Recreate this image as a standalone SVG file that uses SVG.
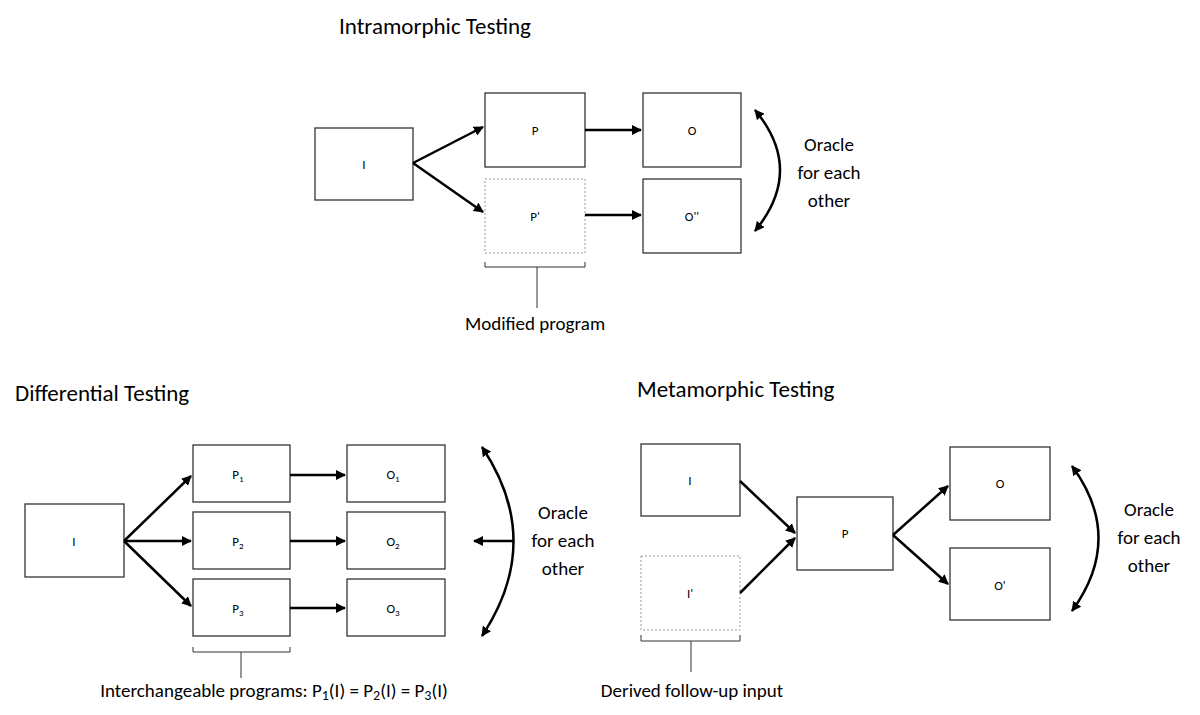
<svg xmlns="http://www.w3.org/2000/svg" width="1200" height="715" viewBox="0 0 1200 715">
<style>
.b{fill:#fff;stroke:#333;stroke-width:1.3}
.d{fill:#fff;stroke:#999;stroke-width:1;stroke-dasharray:2 2}
text{font-family:Calibri,"Carlito","Liberation Sans",sans-serif;fill:#000}
.s{font-size:13px;text-anchor:middle}
.l{font-size:19px;text-anchor:middle}
.t{font-size:23px}
.c{stroke:#000;stroke-width:2.5;fill:none}
.k{stroke:#333;stroke-width:1;fill:none}
</style>
<defs><marker id="a" viewBox="0 0 10 10" refX="9" refY="5" markerWidth="4" markerHeight="4" orient="auto-start-reverse"><path d="M0,0L10,5L0,10z" fill="#000"/></marker></defs>
<text class="t" x="339" y="34">Intramorphic Testing</text>
<text class="t" x="15" y="401">Differential Testing</text>
<text class="t" x="637" y="397">Metamorphic Testing</text>
<g id="intra">
<g id="i1"><rect class="b" x="315" y="128" width="98" height="72"/><text class="s" x="364" y="169">I</text></g>
<g id="p1"><rect class="b" x="485" y="93" width="100" height="74"/><text class="s" x="535" y="135">P</text></g>
<g id="pp1"><rect class="d" x="485" y="179" width="100" height="74"/><text class="s" x="535" y="221">P'</text></g>
<g id="o1"><rect class="b" x="643" y="93" width="98" height="74"/><text class="s" x="692" y="135">O</text></g>
<g id="oo1"><rect class="b" x="643" y="179" width="98" height="74"/><text class="s" x="692" y="221">O''</text></g>
<text class="l" x="829" y="151">Oracle</text><text class="l" x="829" y="179">for each</text><text class="l" x="829" y="207">other</text>
<path class="k" d="M485,262V267H585V262M537,267V308"/>
<text class="l" x="535" y="330">Modified program</text>
</g>
<g id="diff">
<g id="i2"><rect class="b" x="25" y="504" width="99" height="73"/><text class="s" x="74" y="546">I</text></g>
<g id="p21"><rect class="b" x="193" y="445" width="97" height="57"/><text class="s" x="238" y="479">P<tspan font-size="9" dy="3">1</tspan></text></g>
<g id="p22"><rect class="b" x="193" y="512" width="97" height="57"/><text class="s" x="238" y="546">P<tspan font-size="9" dy="3">2</tspan></text></g>
<g id="p23"><rect class="b" x="193" y="579" width="97" height="57"/><text class="s" x="238" y="613">P<tspan font-size="9" dy="3">3</tspan></text></g>
<g id="o21"><rect class="b" x="347" y="445" width="98" height="57"/><text class="s" x="393" y="479">O<tspan font-size="9" dy="3">1</tspan></text></g>
<g id="o22"><rect class="b" x="347" y="512" width="98" height="57"/><text class="s" x="393" y="546">O<tspan font-size="9" dy="3">2</tspan></text></g>
<g id="o23"><rect class="b" x="347" y="579" width="98" height="57"/><text class="s" x="393" y="613">O<tspan font-size="9" dy="3">3</tspan></text></g>
<text class="l" x="563" y="519">Oracle</text><text class="l" x="563" y="547">for each</text><text class="l" x="563" y="575">other</text>
<path class="k" d="M193,647V652H290V647M241,652V678"/>
<text class="l" x="274" y="697">Interchangeable programs: P<tspan font-size="14" dy="3">1</tspan><tspan dy="-3">(I) = P</tspan><tspan font-size="14" dy="3">2</tspan><tspan dy="-3">(I) = P</tspan><tspan font-size="14" dy="3">3</tspan><tspan dy="-3">(I)</tspan></text>
</g>
<g id="meta">
<g id="i3"><rect class="b" x="641" y="444" width="99" height="72"/><text class="s" x="690" y="485">I</text></g>
<g id="ip3"><rect class="d" x="641" y="556" width="99" height="74"/><text class="s" x="690" y="598">I'</text></g>
<g id="p3"><rect class="b" x="797" y="497" width="96" height="73"/><text class="s" x="845" y="538">P</text></g>
<g id="o3"><rect class="b" x="950" y="447" width="100" height="73"/><text class="s" x="1000" y="488">O</text></g>
<g id="oo3"><rect class="b" x="950" y="548" width="100" height="72"/><text class="s" x="1000" y="590">O'</text></g>
<text class="l" x="1149" y="516">Oracle</text><text class="l" x="1149" y="544">for each</text><text class="l" x="1149" y="572">other</text>
<path class="k" d="M641,635V641H740V635M691,641V672"/>
<text class="l" x="692" y="697">Derived follow-up input</text>
</g>
<g id="connectors">
<path class="c" marker-end="url(#a)" d="M413,163L483,127"/>
<path class="c" marker-end="url(#a)" d="M413,163L483,212"/>
<path class="c" marker-end="url(#a)" d="M585,130L641,130"/>
<path class="c" marker-end="url(#a)" d="M585,215L641,215"/>
<path class="c" marker-start="url(#a)" marker-end="url(#a)" d="M755,110Q805,170 755,231"/>
<path class="c" marker-end="url(#a)" d="M124,541L191,476"/>
<path class="c" marker-end="url(#a)" d="M124,541L191,541"/>
<path class="c" marker-end="url(#a)" d="M124,541L191,606"/>
<path class="c" marker-end="url(#a)" d="M290,475L345,475"/>
<path class="c" marker-end="url(#a)" d="M290,541L345,541"/>
<path class="c" marker-end="url(#a)" d="M290,608L345,608"/>
<path class="c" marker-start="url(#a)" marker-end="url(#a)" d="M482,447Q545,541 482,636"/>
<path class="c" marker-end="url(#a)" d="M514,541L474,541"/>
<path class="c" marker-end="url(#a)" d="M740,481L795,533"/>
<path class="c" marker-end="url(#a)" d="M740,593L795,538"/>
<path class="c" marker-end="url(#a)" d="M893,535L948,486"/>
<path class="c" marker-end="url(#a)" d="M893,535L948,584"/>
<path class="c" marker-start="url(#a)" marker-end="url(#a)" d="M1072,466Q1125,538 1072,611"/>
</g>
</svg>
